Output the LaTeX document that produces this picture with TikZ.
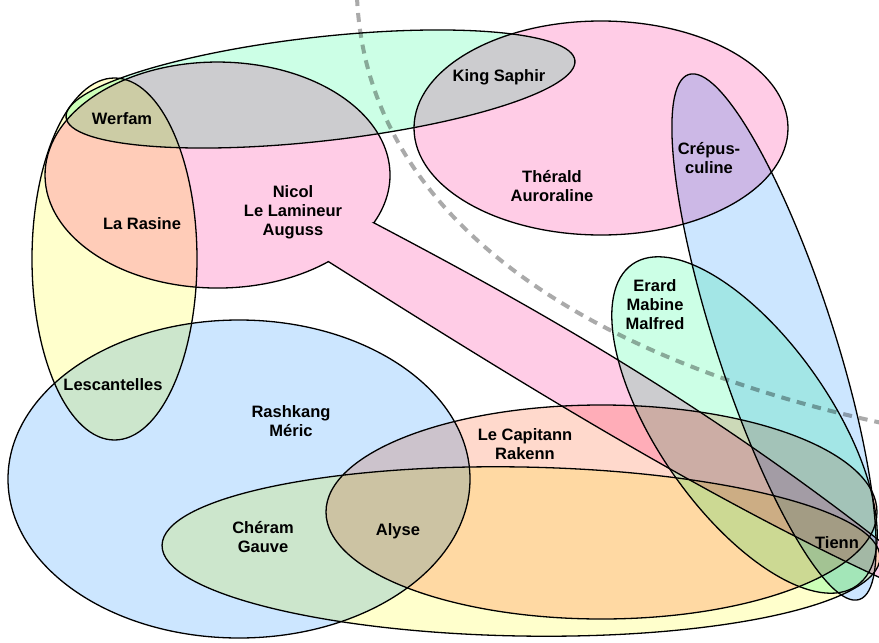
\documentclass[tikz,border=0pt]{standalone}
\usepackage{fontspec}
\setmainfont{Liberation Sans}
\definecolor{mint}{RGB}{204,255,230}
\definecolor{rose}{RGB}{255,204,230}
\definecolor{lemon}{RGB}{255,255,204}
\definecolor{sky}{RGB}{204,230,255}
\definecolor{peach}{RGB}{255,217,204}
\definecolor{dashgray}{RGB}{170,170,170}
\begin{document}
\begin{tikzpicture}[x=1pt, y=-1pt,
  set/.style={draw=black, line width=1.3pt},
  lbl/.style={font=\bfseries\fontsize{16.5}{19}\selectfont, align=center, inner sep=0pt}]
\useasboundingbox (0,0) rectangle (879,643);
\fill[white] (0,0) rectangle (879,643);
\begin{scope}[blend mode=multiply]
\filldraw[set, fill=lemon] (114.5,259) ellipse [x radius=82.5, y radius=181];
\filldraw[set, fill=mint, rotate around={6.4:(320.5,89)}] (320.5,89) ellipse [x radius=256, y radius=52];
\filldraw[set, fill=rose] (601,128) ellipse [x radius=187, y radius=107];
\filldraw[set, fill=rose] (373.8,222.8) .. controls (530,305) and (700,400) .. (885,545)
  -- (885,580) .. controls (700,495) and (500,370) .. (328.4,261.6)
  arc[start angle=50, end angle=385, x radius=172.5, y radius=113] -- cycle;
\filldraw[set, fill=sky, rotate around={-72:(774,337)}] (774,337) ellipse [x radius=276, y radius=59];
\filldraw[set, fill=mint, rotate around={-55.1:(744.5,425)}] (744.5,425) ellipse [x radius=196, y radius=86.5];
\filldraw[set, fill=sky] (239,479) ellipse [x radius=231, y radius=159];
\filldraw[set, fill=peach] (601.5,512) ellipse [x radius=275.5, y radius=107];
\filldraw[set, fill=lemon, rotate around={-1:(521,551.5)}] (521,551.5) ellipse [x radius=359, y radius=84.5];
\draw[dashgray, line width=4pt, dash pattern=on 9pt off 7pt] (357,-3) .. controls (366,210) and (570,355) .. (882,423);
\end{scope}
\node (king) at (499,77) [lbl] {King Saphir};
\node (werfam) at (122,119) [lbl] {Werfam};
\node (rasine) at (142,224) [lbl] {La Rasine};
\node (nicol) at (293,212) [lbl] {Nicol\\Le Lamineur\\Auguss};
\node (therald) at (552,186) [lbl] {Thérald\\Auroraline};
\node (crepus) at (709,158) [lbl] {Crépus-\\culine};
\node (erard) at (655,305) [lbl] {Erard\\Mabine\\Malfred};
\node (lescant) at (113,385) [lbl] {Lescantelles};
\node (rashkang) at (291,421) [lbl] {Rashkang\\Méric};
\node (capitann) at (525,444) [lbl] {Le Capitann\\Rakenn};
\node (cheram) at (263,537) [lbl] {Chéram\\Gauve};
\node (alyse) at (398,531) [lbl] {Alyse};
\node (tienn) at (837,543) [lbl] {Tienn};
\end{tikzpicture}
\end{document}
